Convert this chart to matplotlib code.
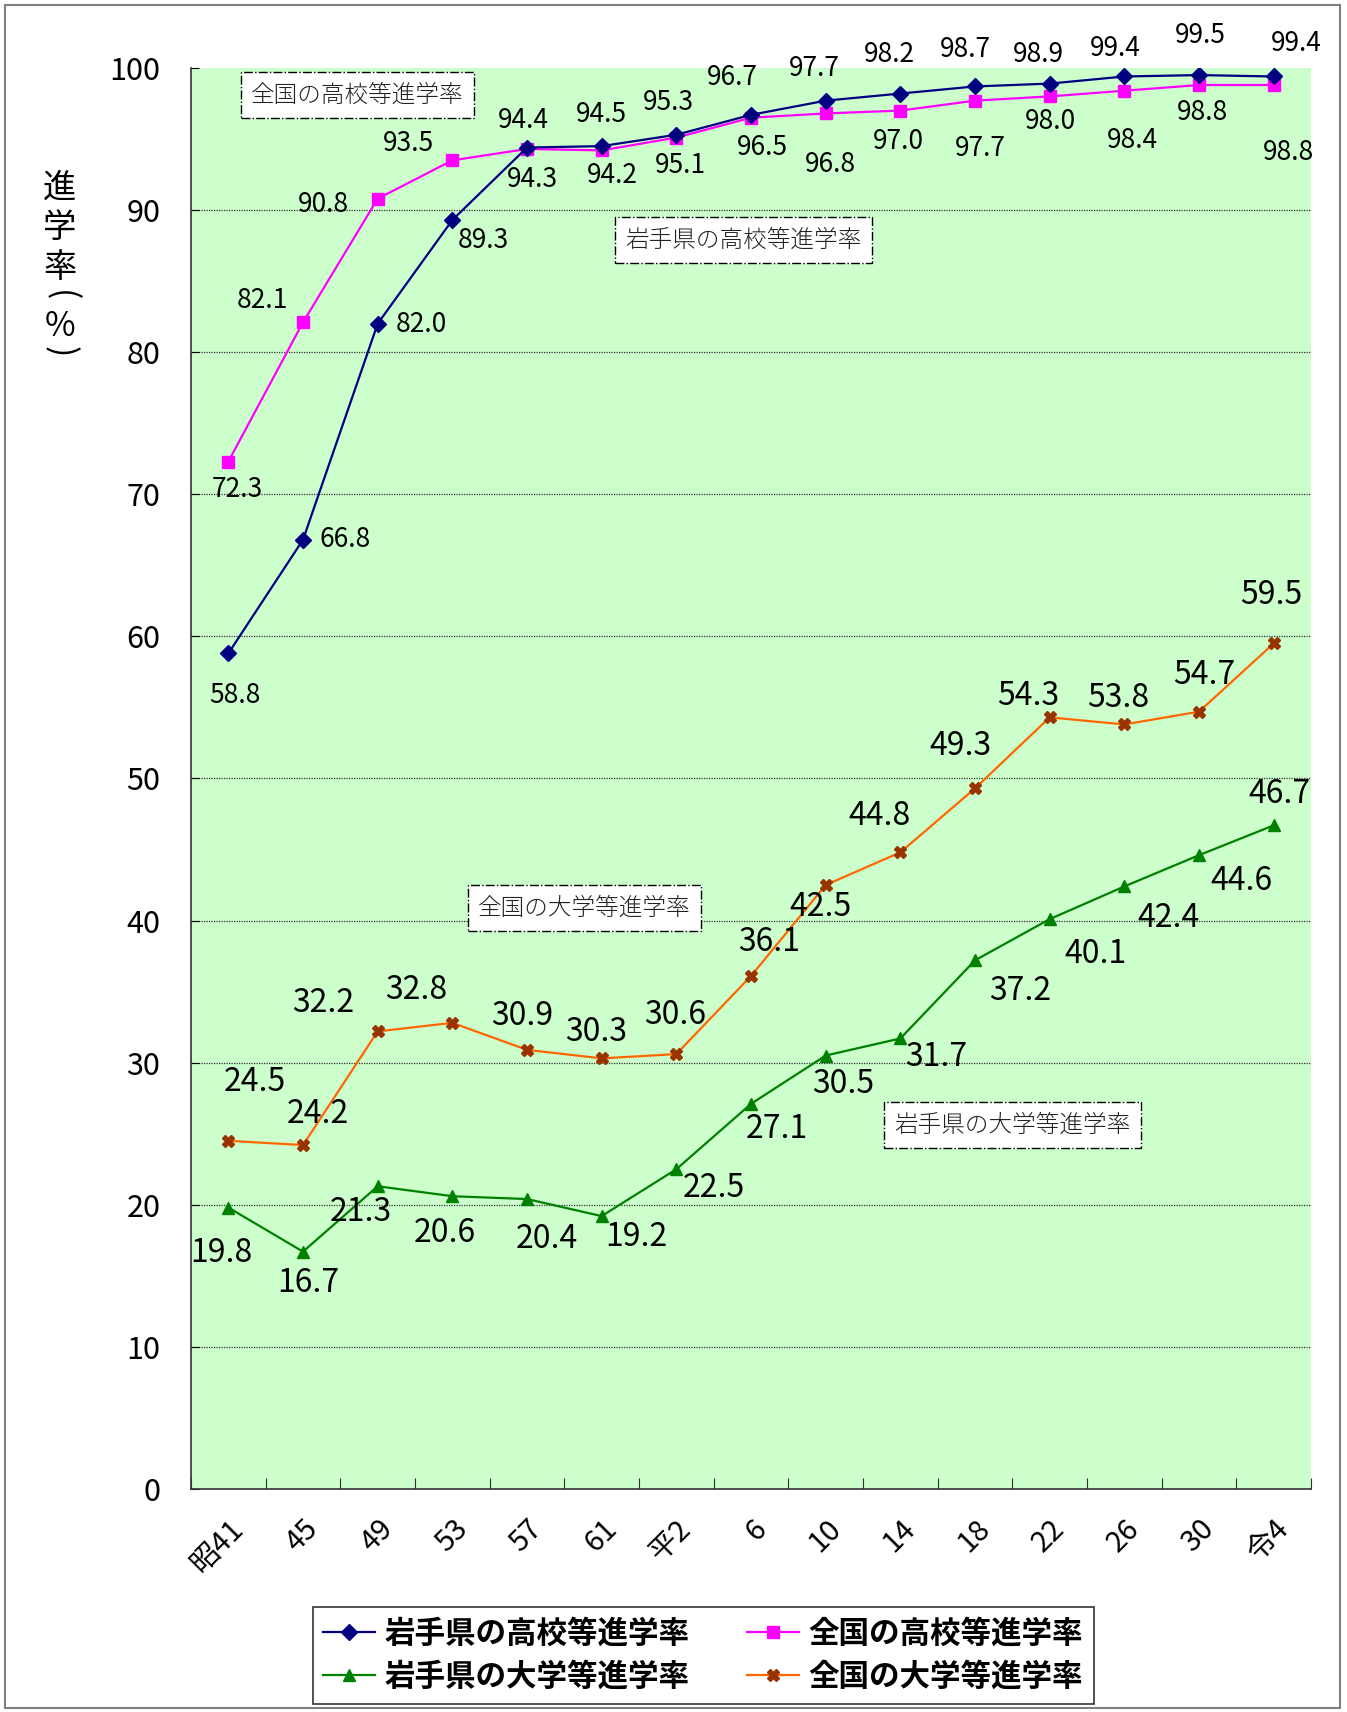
import numpy as np
import matplotlib
matplotlib.use('Agg')
import matplotlib.pyplot as plt
from matplotlib.patches import Rectangle

plt.rcParams['font.family'] = ['Noto Sans CJK JP', 'DejaVu Sans']

# data
years = ['昭41', '45', '49', '53', '57', '61', '平2', '6', '10', '14', '18', '22', '26', '30', '令4']
iwate_hs = [58.8, 66.8, 82.0, 89.3, 94.4, 94.5, 95.3, 96.7, 97.7, 98.2, 98.7, 98.9, 99.4, 99.5, 99.4]
japan_hs = [72.3, 82.1, 90.8, 93.5, 94.3, 94.2, 95.1, 96.5, 96.8, 97.0, 97.7, 98.0, 98.4, 98.8, 98.8]
iwate_univ = [19.8, 16.7, 21.3, 20.6, 20.4, 19.2, 22.5, 27.1, 30.5, 31.7, 37.2, 40.1, 42.4, 44.6, 46.7]
japan_univ = [24.5, 24.2, 32.2, 32.8, 30.9, 30.3, 30.6, 36.1, 42.5, 44.8, 49.3, 54.3, 53.8, 54.7, 59.5]

names = ['岩手県の高校等進学率', '全国の高校等進学率', '岩手県の大学等進学率', '全国の大学等進学率']

# label offsets (px, image-down positive)
off_iwate_hs = [(6, 39), (39, 0), (40, 1), (28, 19), (-3, -25), (0, -29), (-7, -30), (-17, -34),
                (-10, -29), (-10, -36), (-9, -34), (-10, -27), (-8, -26), (1, -36), (21, -30)]
off_japan_hs = [(8, 26), (-37, -20), (-50, 5), (-40, -15), (5, 28), (10, 23), (4, 26), (10, 27),
                (4, 47), (-2, 28), (5, 44), (1, 23), (7, 46), (3, 25), (14, 62)]
off_japan_univ = [(24, -54), (14, -28), (-50, -26), (-33, -30), (-4, -31), (-5, -24), (-1, -36), (17, -31),
                  (-5, 20), (-19, -33), (-13, -39), (-20, -20), (-6, -24), (5, -34), (-2, -44)]
off_iwate_univ = [(-6, 42), (5, 29), (-15, 24), (-7, 34), (18, 37), (32, 19), (34, 17), (24, 23),
                  (16, 26), (33, 17), (41, 28), (42, 32), (40, 29), (39, 24), (5, -29)]
SCALE = 1347 / 1234

fig = plt.figure(figsize=(13.47, 17.12), dpi=100)
ax = fig.add_axes([0.1418, 0.1303, 0.8315, 0.83])
ax.set_facecolor('#CCFFCC')

x = np.arange(len(years))

h0, = ax.plot(x, iwate_hs, color='#000080', lw=1.6, marker='D', ms=8, mfc='#000080', mec='#000080', label=names[0], zorder=4)
h1, = ax.plot(x, japan_hs, color='#FF00FF', lw=1.6, marker='s', ms=8, mfc='#FF00FF', mec='#FF00FF', label=names[1], zorder=3)
h2, = ax.plot(x, iwate_univ, color='#008000', lw=1.6, marker='^', ms=9, mfc='#008000', mec='#008000', label=names[2], zorder=3)
h3, = ax.plot(x, japan_univ, color='#FF6600', lw=1.6, marker='X', ms=9, mfc='#993300', mec='#993300', label=names[3], zorder=3)


def put_labels(vals, offs, size):
    for i, (v, o) in enumerate(zip(vals, offs)):
        ax.annotate(f'{v:.1f}', (x[i], v), xytext=(o[0] * SCALE, -o[1] * SCALE),
                    textcoords='offset pixels', ha='center', va='center',
                    fontsize=size, color='black', zorder=6)


put_labels(iwate_hs, off_iwate_hs, 19)
put_labels(japan_hs, off_japan_hs, 19)
put_labels(japan_univ, off_japan_univ, 23)
put_labels(iwate_univ, off_iwate_univ, 23)

# series name boxes
boxes = [(1.73, 98.1, names[1]), (6.9, 87.9, names[0]), (4.77, 40.9, names[3]), (10.5, 25.6, names[2])]
for bx, by, t in boxes:
    ax.text(bx, by, t, ha='center', va='center', fontsize=17,
            fontweight='light', color='#222222', zorder=7,
            bbox=dict(boxstyle='square,pad=0.45', fc='white', ec='black', ls='-.', lw=1.0))

ax.set_xlim(-0.5, len(years) - 0.5)
ax.set_ylim(0, 100)
ax.set_yticks(np.arange(0, 101, 10))
ax.tick_params(axis='y', labelsize=22, direction='in', length=6, pad=22)
for gy in range(10, 100, 10):
    ax.axhline(gy, color='#333333', lw=0.9, ls=(0, (1, 1)), zorder=1)

ax.set_xticks(np.arange(-0.5, len(years), 1))
ax.set_xticklabels([])
ax.tick_params(axis='x', direction='in', length=8, color='#333333')
ax.set_xticks(x, minor=True)
ax.set_xticklabels(years, minor=True, rotation=45, ha='right', va='top',
                   rotation_mode='anchor', fontsize=21)
ax.tick_params(axis='x', which='minor', length=0, pad=18)

for s in ['top', 'right']:
    ax.spines[s].set_visible(False)
ax.spines['left'].set_color('#333333')
ax.spines['bottom'].set_color('#333333')
ax.spines['left'].set_linewidth(1.2)
ax.spines['bottom'].set_linewidth(1.2)

# vertical y label, one character at a time
ylab = [('進', 188, 0), ('学', 227, 0), ('率', 267, 0), ('(', 296, -90), ('%', 327, 0), (')', 352, -90)]
for ch, py, rot in ylab:
    fig.text(0.0445, 1 - py / 1712, ch, ha='center', va='center', fontsize=24, rotation=rot)

leg = fig.legend([h0, h2, h1, h3], [names[0], names[2], names[1], names[3]],
                 loc='center', bbox_to_anchor=(0.522, 0.033), ncol=2,
                 frameon=True, fancybox=False, edgecolor='black', columnspacing=1.9,
                 handlelength=1.7, handletextpad=0.3, borderpad=0.35, labelspacing=0.35,
                 prop={'size': 22, 'weight': 'bold'})
leg.get_frame().set_linewidth(1.2)

fig.patches.append(Rectangle((0.004, 0.0023), 0.991, 0.9945, transform=fig.transFigure,
                             fill=False, ec='#808080', lw=1.5))

fig.savefig('out.png', dpi=100)
